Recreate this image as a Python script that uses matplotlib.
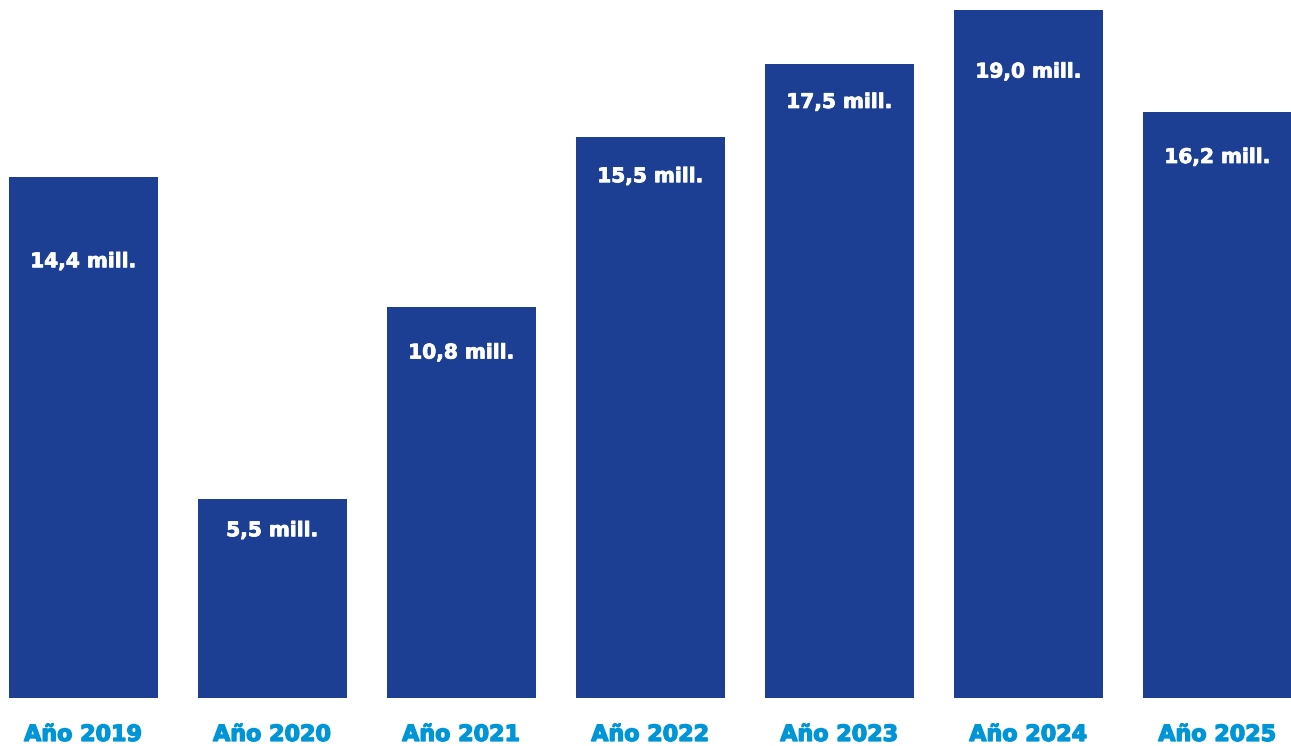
import matplotlib
matplotlib.use("Agg")
import matplotlib.pyplot as plt
import matplotlib.patheffects as pe

years = ["Año 2019", "Año 2020", "Año 2021", "Año 2022", "Año 2023", "Año 2024", "Año 2025"]
values = [14.4, 5.5, 10.8, 15.5, 17.5, 19.0, 16.2]
value_labels = ["14,4 mill.", "5,5 mill.", "10,8 mill.", "15,5 mill.", "17,5 mill.", "19,0 mill.", "16,2 mill."]
# distance of each value label below the bar top (data units)
label_drops = [2.35, 0.88, 1.27, 1.10, 1.05, 1.71, 1.27]

BAR = "#1C3F94"
YEAR_C = "#0095D6"

fig = plt.figure(figsize=(12.91, 7.46), dpi=100)
ax = fig.add_axes([0, 0, 1, 1])
x = list(range(len(years)))
ax.bar(x, values, width=0.788, color=BAR)
ax.set_xlim(-0.44, 6.39)
ax.set_ylim(-1.326, 19.28)
ax.axis("off")

font = dict(family=["DejaVu Sans"], fontweight="bold")
for xi, v, lab, d in zip(x, values, value_labels, label_drops):
    ax.text(xi, v - d, lab, ha="center", va="center", color="white", fontsize=14.5,
            path_effects=[pe.withStroke(linewidth=0.6, foreground="white")], **font)
for xi, y in zip(x, years):
    ax.text(xi, -1.02, y, ha="center", va="center", color=YEAR_C, fontsize=16,
            path_effects=[pe.withStroke(linewidth=1.0, foreground=YEAR_C)], **font)

fig.savefig("out.png", dpi=100)
